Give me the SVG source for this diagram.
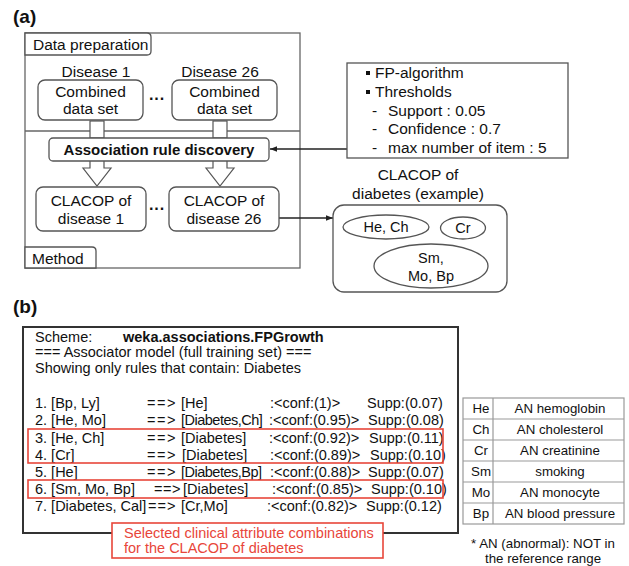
<svg xmlns="http://www.w3.org/2000/svg" width="629" height="566" viewBox="0 0 629 566">
<defs>
<style>
text{font-family:"Liberation Sans",Arial,sans-serif;fill:#111}
.a{font-size:15.5px}
.b{font-size:14.5px}
.t{font-size:13.3px}
.c{text-anchor:middle}
.box{fill:#fff;stroke:#555;stroke-width:1.3}
.red{fill:none;stroke:#e8463a;stroke-width:1.6}
.rt{fill:#e8463a}
.ln{stroke:#222;stroke-width:1.3;fill:none}
.tl{stroke:#999;stroke-width:1.2;fill:none}
</style>
<marker id="ah" viewBox="0 0 10 10" refX="10" refY="5" markerWidth="7" markerHeight="7" orient="auto" markerUnits="userSpaceOnUse">
<path d="M0,1 L10,5 L0,9 Z" fill="#222"/>
</marker>
</defs>
<rect width="629" height="566" fill="#fff"/>

<text x="13" y="23" style="font-size:19px;font-weight:bold">(a)</text>

<g id="method-frame">
<rect x="25" y="33" width="275" height="235" fill="#fff" stroke="#666" stroke-width="1.3"/>
<line x1="25" y1="131" x2="300" y2="131" stroke="#666" stroke-width="1.3"/>
<path d="M25,33 H147 Q151,33 151,37 V51 Q151,55 147,55 H25 Z" class="box"/>
<text x="33" y="50" class="a">Data preparation</text>
<path d="M25,268 V247 H92 Q96,247 96,251 V268 Z" class="box"/>
<text x="32" y="264" class="a">Method</text>
</g>

<g id="connectors">
<rect x="90" y="121" width="14" height="17" fill="#fff" stroke="#555" stroke-width="1.2"/>
<rect x="213" y="121" width="14" height="17" fill="#fff" stroke="#555" stroke-width="1.2"/>
<path d="M90,161 V168 H83 L97,186 L111,168 H104 V161" fill="#fff" stroke="#555" stroke-width="1.2"/>
<path d="M213,161 V168 H206 L220,186 L234,168 H227 V161" fill="#fff" stroke="#555" stroke-width="1.2"/>
<line x1="347" y1="149" x2="270" y2="149" class="ln" marker-end="url(#ah)"/>
<line x1="279" y1="218" x2="333" y2="218" class="ln" marker-end="url(#ah)"/>
</g>

<g id="disease1">
<text x="96" y="77" class="a c">Disease 1</text>
<rect x="38" y="80" width="105" height="40" rx="7" class="box"/>
<text x="90.5" y="97" class="a c">Combined</text>
<text x="90.5" y="114" class="a c">data set</text>
</g>
<text x="157" y="104" class="c" style="font-size:16px;font-weight:bold">···</text>
<g id="disease26">
<text x="220" y="77" class="a c">Disease 26</text>
<rect x="172" y="80" width="105" height="40" rx="7" class="box"/>
<text x="224.5" y="97" class="a c">Combined</text>
<text x="224.5" y="114" class="a c">data set</text>
</g>

<g id="association">
<rect x="49" y="138" width="220" height="23" rx="4" class="box"/>
<text x="159" y="155" class="c" style="font-size:15px;font-weight:bold">Association rule discovery</text>
</g>

<g id="clacop1">
<rect x="36" y="187" width="110" height="44" rx="7" class="box"/>
<text x="91" y="206" class="a c">CLACOP of</text>
<text x="91" y="224" class="a c">disease 1</text>
</g>
<text x="157" y="214" class="c" style="font-size:16px;font-weight:bold">···</text>
<g id="clacop26">
<rect x="169" y="187" width="110" height="44" rx="7" class="box"/>
<text x="224" y="206" class="a c">CLACOP of</text>
<text x="224" y="224" class="a c">disease 26</text>
</g>

<g id="fp-settings">
<rect x="347" y="63" width="221" height="95" class="box"/>
<rect x="366" y="71" width="4" height="4" fill="#111"/>
<text x="375" y="78" class="a">FP-algorithm</text>
<rect x="366" y="90" width="4" height="4" fill="#111"/>
<text x="375" y="97" class="a">Thresholds</text>
<text x="372" y="116" class="a">-</text>
<text x="388" y="116" class="a">Support : 0.05</text>
<text x="372" y="134" class="a">-</text>
<text x="388" y="134" class="a">Confidence : 0.7</text>
<text x="372" y="153" class="a">-</text>
<text x="388" y="153" class="a">max number of item : 5</text>
</g>

<g id="clacop-diabetes">
<text x="418" y="180" class="a c">CLACOP of</text>
<text x="418" y="199" class="a c">diabetes (example)</text>
<rect x="333" y="205" width="174" height="87" rx="11" class="box"/>
<ellipse cx="386" cy="227" rx="43" ry="12" class="box"/>
<text x="386" y="232" class="b c">He, Ch</text>
<ellipse cx="463" cy="228" rx="22.5" ry="11" class="box"/>
<text x="463" y="233" class="b c">Cr</text>
<ellipse cx="431" cy="266" rx="57" ry="22" class="box"/>
<text x="431" y="263" class="b c">Sm,</text>
<text x="431" y="281" class="b c">Mo, Bp</text>
</g>

<text x="13" y="313" style="font-size:19px;font-weight:bold">(b)</text>

<g id="weka-output">
<rect x="23" y="327" width="435" height="206" fill="#fff" stroke="#333" stroke-width="2"/>
<text x="35" y="342" class="b">Scheme:</text>
<text x="123" y="342" class="b" style="font-weight:bold">weka.associations.FPGrowth</text>
<text x="35" y="357" class="b">=== Associator model (full training set) ===</text>
<text x="35" y="373" class="b">Showing only rules that contain: Diabetes</text>

<text x="35" y="408" class="b">1. [Bp, Ly]</text>
<text x="147" y="408" class="b" letter-spacing="1.5">==&gt;</text>
<text x="181" y="408" class="b">[He]</text>
<text x="270" y="408" class="b">:&lt;conf:(1)&gt;</text>
<text x="367" y="408" class="b">Supp:(0.07)</text>

<text x="35" y="425" class="b">2. [He, Mo]</text>
<text x="147" y="425" class="b" letter-spacing="1.5">==&gt;</text>
<text x="181" y="425" class="b" letter-spacing="-0.5">[Diabetes,Ch]</text>
<text x="269" y="425" class="b">:&lt;conf:(0.95)&gt;</text>
<text x="368" y="425" class="b">Supp:(0.08)</text>

<text x="35" y="443" class="b">3. [He, Ch]</text>
<text x="147" y="443" class="b" letter-spacing="1.5">==&gt;</text>
<text x="181" y="443" class="b">[Diabetes]</text>
<text x="269" y="443" class="b">:&lt;conf:(0.92)&gt;</text>
<text x="369" y="443" class="b">Supp:(0.11)</text>

<text x="35" y="460" class="b">4. [Cr]</text>
<text x="147" y="460" class="b" letter-spacing="1.5">==&gt;</text>
<text x="182" y="460" class="b">[Diabetes]</text>
<text x="270" y="460" class="b">:&lt;conf:(0.89)&gt;</text>
<text x="370" y="460" class="b">Supp:(0.10)</text>

<text x="35" y="477" class="b">5. [He]</text>
<text x="147" y="477" class="b" letter-spacing="1.5">==&gt;</text>
<text x="181" y="477" class="b" letter-spacing="-0.5">[Diabetes,Bp]</text>
<text x="270" y="477" class="b">:&lt;conf:(0.88)&gt;</text>
<text x="368" y="477" class="b">Supp:(0.07)</text>

<text x="35" y="494" class="b">6. [Sm, Mo, Bp]</text>
<text x="154" y="494" class="b" letter-spacing="0.5">==&gt;</text>
<text x="183" y="494" class="b">[Diabetes]</text>
<text x="272" y="494" class="b">:&lt;conf:(0.85)&gt;</text>
<text x="371" y="494" class="b">Supp:(0.10)</text>

<text x="35" y="511" class="b">7. [Diabetes, Cal]</text>
<text x="148" y="511" class="b" letter-spacing="1">==&gt;</text>
<text x="181" y="511" class="b">[Cr,Mo]</text>
<text x="267" y="511" class="b">:&lt;conf:(0.82)&gt;</text>
<text x="366" y="511" class="b">Supp:(0.12)</text>

<rect x="28" y="429" width="415" height="34" class="red"/>
<rect x="28" y="480" width="415" height="18" class="red"/>
</g>

<g id="selected-label">
<rect x="112" y="523" width="271" height="35" fill="#fff" stroke="#e8463a" stroke-width="1.6"/>
<text x="124" y="538" class="b rt">Selected clinical attribute combinations</text>
<text x="124" y="553" class="b rt">for the CLACOP of diabetes</text>
</g>

<g id="legend">
<rect x="463" y="398" width="161" height="126" fill="#fff" class="tl"/>
<line x1="493" y1="398" x2="493" y2="524" class="tl"/>
<line x1="463" y1="419" x2="624" y2="419" class="tl"/>
<line x1="463" y1="440" x2="624" y2="440" class="tl"/>
<line x1="463" y1="461" x2="624" y2="461" class="tl"/>
<line x1="463" y1="482" x2="624" y2="482" class="tl"/>
<line x1="463" y1="503" x2="624" y2="503" class="tl"/>
<text x="481" y="413" class="t c">He</text>
<text x="560" y="413" class="t c">AN hemoglobin</text>
<text x="481" y="434" class="t c">Ch</text>
<text x="560" y="434" class="t c">AN cholesterol</text>
<text x="481" y="455" class="t c">Cr</text>
<text x="560" y="455" class="t c">AN creatinine</text>
<text x="481" y="476" class="t c">Sm</text>
<text x="560" y="476" class="t c">smoking</text>
<text x="481" y="497" class="t c">Mo</text>
<text x="560" y="497" class="t c">AN monocyte</text>
<text x="481" y="518" class="t c">Bp</text>
<text x="560" y="518" class="t c">AN blood pressure</text>
<text x="543" y="548" class="t c">* AN (abnormal): NOT in</text>
<text x="543" y="563" class="t c">the reference range</text>
</g>
</svg>
